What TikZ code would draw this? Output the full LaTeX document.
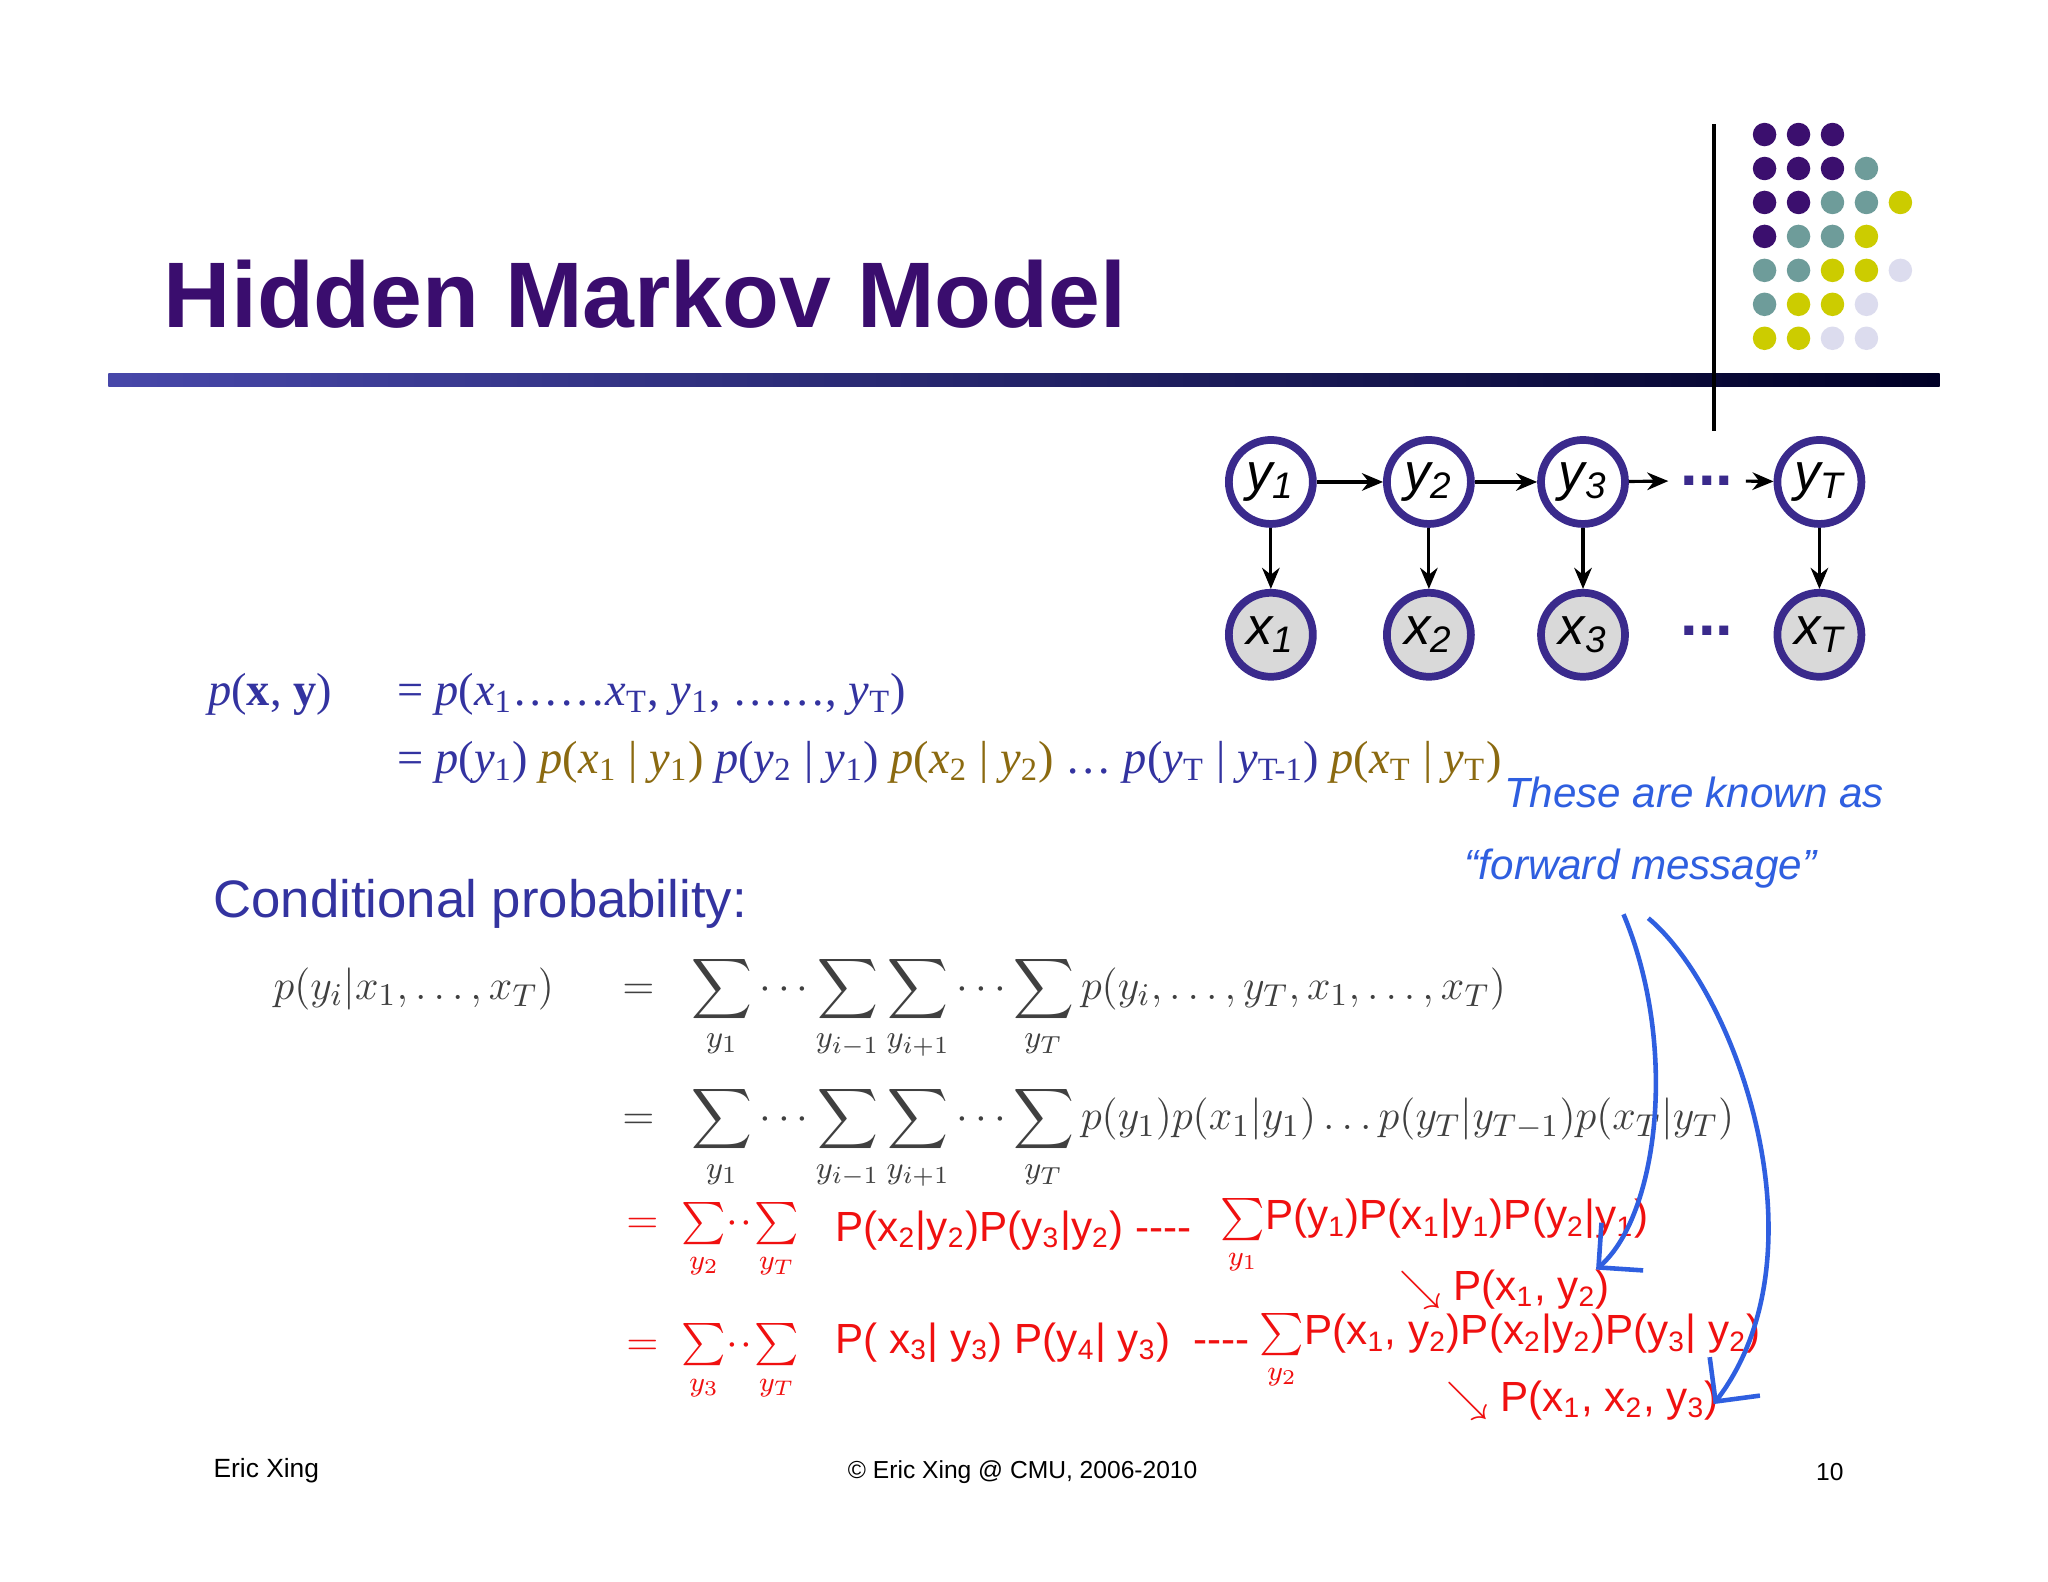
\documentclass[tikz,border=0pt]{standalone}
\usepackage{fontspec}
\usepackage{amsmath}
\setsansfont{Liberation Sans}
\newfontfamily\hand{Liberation Sans}
\newfontfamily\tms{Liberation Serif}
\usetikzlibrary{arrows.meta,shapes.geometric}
\definecolor{ttl}{HTML}{3A0D6E}
\definecolor{dP}{HTML}{3B0F6E}
\definecolor{dT}{HTML}{6E9C9A}
\definecolor{dY}{HTML}{CCCC00}
\definecolor{dL}{HTML}{DCDCEE}
\definecolor{fblue}{HTML}{3333A0}
\definecolor{fgold}{HTML}{8B6A10}
\definecolor{nodeb}{HTML}{3A2A8C}
\definecolor{redh}{HTML}{F01010}
\definecolor{blueh}{HTML}{2F5FE0}
\newcommand{\is}[1]{\textit{#1}}
\newcommand{\sbs}[1]{\textsubscript{#1}}
\tikzset{
 ynode/.style={circle,draw=nodeb,line width=2.2pt,fill=white,minimum size=0.84cm,inner sep=0pt,font=\sffamily\itshape\fontsize{15}{15}\selectfont},
 xnode/.style={ynode,fill=black!15},
 arr/.style={-{Stealth[length=6pt,width=5pt]},line width=0.9pt},
 dot/.style={circle,inner sep=0pt,minimum size=0.235cm},
 red/.style={text=redh,font=\hand\fontsize{12}{13}\selectfont,anchor=west},
 bl/.style={text=blueh,font=\hand\itshape\fontsize{12}{13}\selectfont,anchor=west},
 fm/.style={anchor=base west,font=\fontsize{13.2}{15}\selectfont,text=black!75},
 tm/.style={anchor=west,font=\tms\fontsize{13.2}{16}\selectfont}
}
\begin{document}
\begin{tikzpicture}[x=0.01306cm,y=-0.01306cm]
\useasboundingbox[fill=white] (0,0) rectangle (1568,1211);
% title
\node[anchor=west,text=ttl,font=\sffamily\bfseries\fontsize{26.5}{27}\selectfont] (title) at (116,225) {Hidden Markov Model};
\shade[left color=fblue!90,right color=black!85!blue] (83,286) rectangle (1485,296);
\draw[line width=1.2pt] (1312,95) -- (1312,330);
% dots
\foreach \r/\cols in {0/{P,P,P},1/{P,P,P,T},2/{P,P,T,T,Y},3/{P,T,T,Y},4/{T,T,Y,Y,L},5/{T,Y,Y,L},6/{Y,Y,L,L}}{
 \foreach \c [count=\i from 0] in \cols {
  \node[dot,fill=d\c] (d\r\i) at (1351+26*\i,103+26*\r) {};
 }}
% HMM
\node[ynode] (y1) at (973,369) {y\textsubscript{1}};
\node[ynode] (y2) at (1094,369) {y\textsubscript{2}};
\node[ynode] (y3) at (1212,369) {y\textsubscript{3}};
\node[ynode] (yT) at (1393,369) {y\textsubscript{T}};
\node[text=nodeb,font=\sffamily\bfseries\fontsize{18}{18}\selectfont] (yd) at (1307,368) {...};
\node[xnode] (x1) at (973,486) {x\textsubscript{1}};
\node[xnode] (x2) at (1094,486) {x\textsubscript{2}};
\node[xnode] (x3) at (1212,486) {x\textsubscript{3}};
\node[xnode] (xT) at (1393,486) {x\textsubscript{T}};
\node[text=nodeb,font=\sffamily\bfseries\fontsize{18}{18}\selectfont] (xd) at (1307,483) {...};
\draw[arr] (y1)--(y2); \draw[arr] (y2)--(y3); \draw[arr] (y3)--(yd); \draw[arr] (yd)--(yT);
\foreach \k in {1,2,3,T}{\draw[arr] (y\k)--(x\k);}
% joint
\node[tm,text=fblue] (pxy) at (150,532) {\is{p}(\textbf{x}, \textbf{y})};
\node[tm,text=fblue] (j1) at (295,532) {= \is{p}(\is{x}\sbs{1}……\is{x}\sbs{T}, \is{y}\sbs{1}, ……, \is{y}\sbs{T})};
\node[tm] (j2) at (295,584) {\color{fblue}= \is{p}(\is{y}\sbs{1}) \color{fgold}\is{p}(\is{x}\sbs{1} | \is{y}\sbs{1}) \color{fblue}\is{p}(\is{y}\sbs{2} | \is{y}\sbs{1}) \color{fgold}\is{p}(\is{x}\sbs{2} | \is{y}\sbs{2}) \color{fblue}… \is{p}(\is{y}\sbs{T} | \is{y}\sbs{T-1}) \color{fgold}\is{p}(\is{x}\sbs{T} | \is{y}\sbs{T})};
\node[anchor=west,text=fblue,font=\sffamily\fontsize{15}{16}\selectfont] (cp) at (154,692) {Conditional probability:};
% math
\node[fm] (m0) at (200,765) {$p(y_i|x_1,\ldots,x_T)$};
\node[fm] (e1) at (467,765) {$=$};
\node[fm] (m1) at (520,765) {$\displaystyle\sum_{y_1}\cdots\sum_{y_{i-1}}\sum_{y_{i+1}}\cdots\sum_{y_T}p(y_i,\ldots,y_T,x_1,\ldots,x_T)$};
\node[fm] (e2) at (467,865) {$=$};
\node[fm] (m2) at (520,865) {$\displaystyle\sum_{y_1}\cdots\sum_{y_{i-1}}\sum_{y_{i+1}}\cdots\sum_{y_T}p(y_1)p(x_1|y_1)\ldots p(y_T|y_{T-1})p(x_T|y_T)$};
% red handwriting
\node[red] (r1) at (470,950) {$=\ \sum\limits_{y_2}\!\cdot\!\cdot\!\sum\limits_{y_T}$};
\node[red] (r1b) at (630,942) {P(x\textsubscript{2}|y\textsubscript{2})P(y\textsubscript{3}|y\textsubscript{2}) ----};
\node[red] (r1c) at (925,947) {$\sum\limits_{y_1}$P(y\textsubscript{1})P(x\textsubscript{1}|y\textsubscript{1})P(y\textsubscript{2}|y\textsubscript{1})};
\node[red] (r2) at (1062,987) {$\searrow$ P(x\textsubscript{1}, y\textsubscript{2})};
\node[red] (r3) at (470,1043) {$=\ \sum\limits_{y_3}\!\cdot\!\cdot\!\sum\limits_{y_T}$};
\node[red] (r3b) at (630,1028) {P( x\textsubscript{3}| y\textsubscript{3}) P(y\textsubscript{4}| y\textsubscript{3})\ \ ----};
\node[red] (r3c) at (955,1035) {$\sum\limits_{y_2}$P(x\textsubscript{1}, y\textsubscript{2})P(x\textsubscript{2}|y\textsubscript{2})P(y\textsubscript{3}| y\textsubscript{2})};
\node[red] (r4) at (1098,1072) {$\searrow$ P(x\textsubscript{1}, x\textsubscript{2}, y\textsubscript{3})};
% blue handwriting
\node[bl] (b1) at (1142,607) {These are known as};
\node[bl] (b2) at (1112,665) {“forward message”};
\coordinate (ae1) at (1222,972);
\coordinate (ae2) at (1312,1075);
\draw[blueh,line width=1.3pt,-{Straight Barb[length=9pt]}] (1243,700) .. controls (1285,800) and (1270,930) .. (ae1);
\draw[blueh,line width=1.3pt,-{Straight Barb[length=9pt]}] (1262,703) .. controls (1330,760) and (1400,960) .. (ae2);
% footer
\node[anchor=west,font=\sffamily\fontsize{7.5}{9}\selectfont] (f1) at (154,1126) {Eric Xing};
\node[font=\sffamily\fontsize{7}{9}\selectfont] (f2) at (783,1127) {© Eric Xing @ CMU, 2006-2010};
\node[font=\sffamily\fontsize{7}{9}\selectfont] (f3) at (1401,1127) {10};
\end{tikzpicture}
\end{document}
